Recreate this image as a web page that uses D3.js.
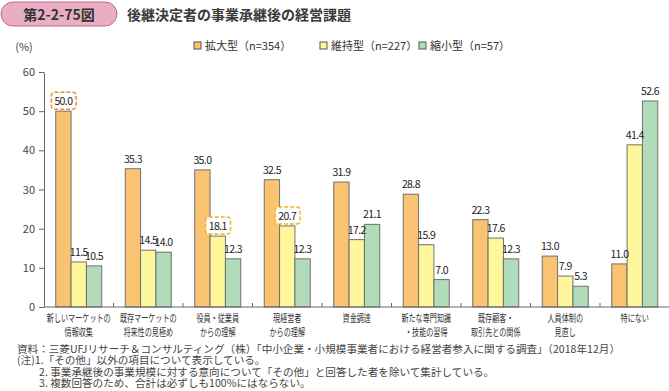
<!DOCTYPE html>
<html><head><meta charset="utf-8">
<script src="https://cdn.jsdelivr.net/npm/d3@7"></script>
<style>
body{margin:0;background:#fff;}
svg{display:block;font-family:"Noto Sans CJK JP","Noto Sans",sans-serif;}
</style></head>
<body><svg id="c" width="669" height="391"></svg>
<script>
const categories = ["新しいマーケットの\n情報収集","既存マーケットの\n将来性の見極め","役員・従業員\nからの理解","現経営者\nからの理解","資金調達","新たな専門知識\n・技能の習得","既存顧客・\n取引先との関係","人員体制の\n見直し","特にない"];
const seriesNames = ["拡大型（n=354）","維持型（n=227）","縮小型（n=57）"];
const expand = [50.0,35.3,35.0,32.5,31.9,28.8,22.3,13.0,11.0];
const maintain = [11.5,14.5,18.1,20.7,17.2,15.9,17.6,7.9,41.4];
const shrink = [10.5,14.0,12.3,12.3,21.1,7.0,12.3,5.3,52.6];
const yTicks = [0,10,20,30,40,50,60];
const highlights = [{cat:0,s:0,color:"#F0892A"},{cat:2,s:1,color:"#F2B227"},{cat:3,s:1,color:"#F2B227"}];
const notes = ["資料：三菱UFJリサーチ＆コンサルティング（株）「中小企業・小規模事業者における経営者参入に関する調査」（2018年12月）",
"(注)1.「その他」以外の項目について表示している。",
"2. 事業承継後の事業規模に対する意向について「その他」と回答した者を除いて集計している。",
"3. 複数回答のため、合計は必ずしも100%にはならない。"];
const colors = ["#F9C372","#FFF79C","#B2DCB9"];

const svg = d3.select("#c");
const series = [expand, maintain, shrink];

// header
svg.append("rect").attr("x",1).attr("y",2).attr("width",116).attr("height",24).attr("rx",12)
  .attr("fill","#E8AEC4").attr("stroke","#C8628E").attr("stroke-width",1);
svg.append("text").attr("x",59).attr("y",19.5).attr("text-anchor","middle").attr("font-size",14)
  .attr("font-weight","bold").attr("fill","#333").text("第2-2-75図");
svg.append("text").attr("x",127).attr("y",19.5).attr("font-size",14).attr("font-weight","bold").attr("fill","#3a3a3a")
  .text("後継決定者の事業承継後の経営課題");

// scales
const x0 = d3.scaleBand().domain(categories).range([44,669.5]).paddingInner(0.338).paddingOuter(0.169);
const x1 = d3.scaleBand().domain([0,1,2]).range([0,x0.bandwidth()]);
const y = d3.scaleLinear().domain([0,60]).range([307,72]);

// y axis
const ya = svg.append("g").attr("transform","translate(44,0)")
  .call(d3.axisLeft(y).tickValues(yTicks).tickSize(5).tickPadding(4).tickSizeOuter(0));
ya.selectAll("path,line").attr("stroke","#666");
ya.selectAll("text").attr("fill","#444").attr("font-size",11).attr("font-family","'Noto Sans CJK JP',sans-serif");
svg.append("text").attr("x",24).attr("y",51).attr("text-anchor","middle").attr("font-size",11).attr("fill","#444").text("(%)");

// bars
const g = svg.append("g");
categories.forEach((c,i)=>{
  series.forEach((s,k)=>{
    g.append("rect").attr("x",x0(c)+x1(k)).attr("y",y(s[i])).attr("width",x1.bandwidth())
      .attr("height",y(0)-y(s[i])).attr("fill",colors[k]).attr("stroke","#707070").attr("stroke-width",1);
  });
});

// x axis line and ticks
svg.append("line").attr("x1",44).attr("x2",669).attr("y1",y(0)).attr("y2",y(0)).attr("stroke","#666");
categories.forEach((c,i)=>{
  if(i===0) return;
  const xb = x0(c) - x0.step()*x0.paddingInner()/2;
  svg.append("line").attr("x1",xb).attr("x2",xb).attr("y1",y(0)-4).attr("y2",y(0)).attr("stroke","#666");
});

// value labels
const lab = svg.append("g").attr("font-size",10.5).attr("fill","#222").attr("text-anchor","middle");
categories.forEach((c,i)=>{
  series.forEach((s,k)=>{
    const t = lab.append("text").attr("x",x0(c)+x1(k)+x1.bandwidth()/2).attr("y",y(s[i])-6)
      .attr("letter-spacing","-0.6").text(s[i].toFixed(1));
    const h = highlights.find(d=>d.cat===i&&d.s===k);
    if(h){
      const bb = t.node().getBBox();
      lab.insert("rect","text").attr("x",bb.x-3).attr("y",bb.y-1).attr("width",bb.width+6).attr("height",bb.height+2)
        .attr("rx",3).attr("fill","#fff").attr("stroke",h.color).attr("stroke-width",1.5).attr("stroke-dasharray","4,2");
    }
  });
});

// category labels (horizontally condensed like the reference typeface)
categories.forEach(c=>{
  const lines = c.split("\n");
  const cx = x0(c)+x0.bandwidth()/2;
  lines.forEach((l,j)=>{
    const t = svg.append("text").attr("text-anchor","middle").attr("font-size",10.5).attr("fill","#333")
      .attr("x",0).attr("y",0).text(l);
    const natural = t.node().getComputedTextLength();
    const sx = (l.length*7.1)/natural;
    t.attr("transform",`translate(${cx},${322+j*14}) scale(${sx},1)`);
  });
});

// legend
const lg = svg.append("g");
const lx = [194,320,419];
seriesNames.forEach((n,k)=>{
  lg.append("rect").attr("x",lx[k]).attr("y",42).attr("width",7).attr("height",7).attr("fill",colors[k]).attr("stroke","#555");
  lg.append("text").attr("x",lx[k]+11).attr("y",49.5).attr("font-size",11).attr("fill","#333").text(n);
});

// notes
const noteLeft = [17,17,39,39];
notes.forEach((n,j)=>{
  svg.append("text").attr("x",noteLeft[j]).attr("y",352.5+j*11.6).attr("font-size",10.6).attr("fill","#444").text(n);
});
</script></body></html>
